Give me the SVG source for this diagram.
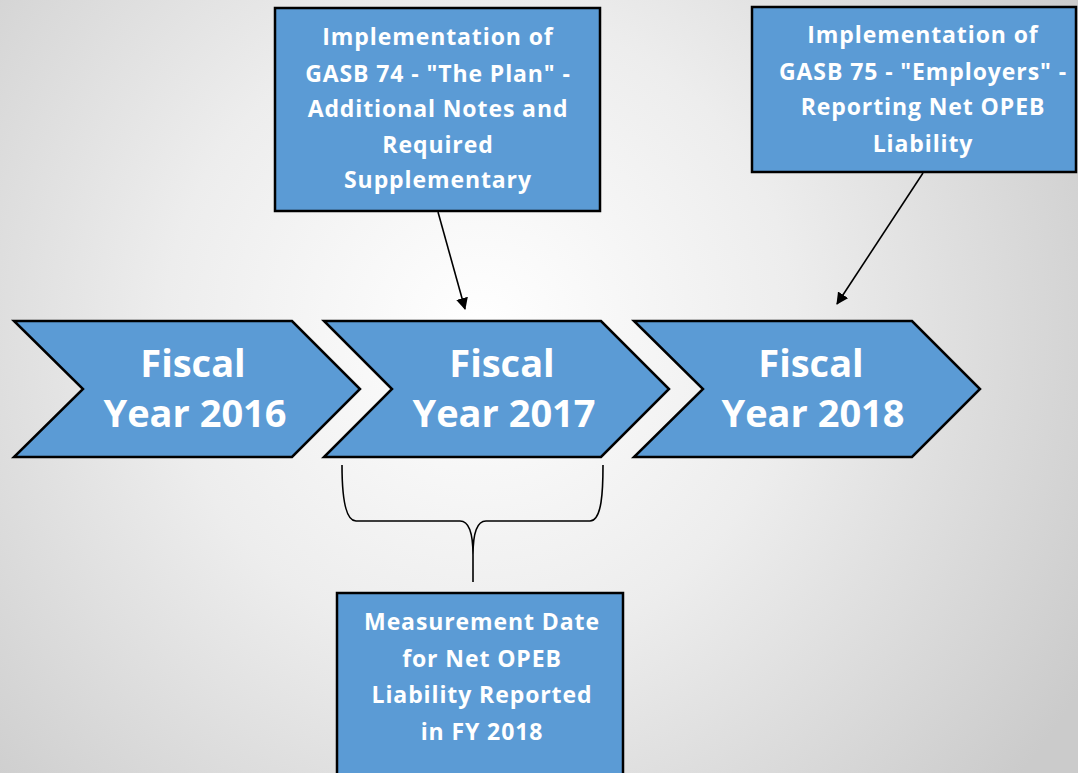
<svg xmlns="http://www.w3.org/2000/svg" width="1078" height="773" viewBox="0 0 1078 773">
  <defs>
    <radialGradient id="bg" cx="480" cy="330" r="700" gradientUnits="userSpaceOnUse">
      <stop offset="0" stop-color="#ffffff"/>
      <stop offset="0.45" stop-color="#ededed"/>
      <stop offset="1" stop-color="#cbcbcb"/>
    </radialGradient>
    <marker id="arrow" viewBox="0 0 12 12" refX="11" refY="6" markerWidth="12" markerHeight="12" markerUnits="userSpaceOnUse" orient="auto">
      <path d="M0,0 L12,6 L0,12 Z" fill="#000"/>
    </marker>
    <style>
      .shape { fill: #5b9bd5; stroke: #000; stroke-width: 2.5; stroke-linejoin: miter; }
      .big { font-family: "Open Sans", "Liberation Sans", sans-serif; font-weight: 700; font-size: 38px; fill: #fff; text-anchor: middle; }
      .note { font-family: "Open Sans", "Liberation Sans", sans-serif; font-weight: 700; font-size: 23px; fill: #fff; text-anchor: middle; letter-spacing: 0.9px; }
      .link { fill: none; stroke: #000; stroke-width: 1.6; }
    </style>
  </defs>

  <rect x="0" y="0" width="1078" height="773" fill="url(#bg)"/>

  <!-- timeline chevrons -->
  <g id="fy2016">
    <path class="shape" d="M14,321 L292,321 L360,389 L292,457 L14,457 L83,389 Z"/>
    <text class="big" x="193" y="377">Fiscal</text>
    <text class="big" x="195" y="427">Year 2016</text>
  </g>
  <g id="fy2017">
    <path class="shape" d="M324,321 L601,321 L669,389 L601,457 L324,457 L392,389 Z"/>
    <text class="big" x="502" y="377">Fiscal</text>
    <text class="big" x="504" y="427">Year 2017</text>
  </g>
  <g id="fy2018">
    <path class="shape" d="M634,321 L912,321 L980,389 L912,457 L634,457 L703,389 Z"/>
    <text class="big" x="811" y="377">Fiscal</text>
    <text class="big" x="813" y="427">Year 2018</text>
  </g>

  <!-- callout boxes -->
  <g id="gasb74">
    <rect class="shape" x="275" y="8" width="325" height="203"/>
    <text class="note" x="438" y="45">Implementation of</text>
    <text class="note" x="438" y="82">GASB 74 - "The Plan" -</text>
    <text class="note" x="438" y="117">Additional Notes and</text>
    <text class="note" x="438" y="153">Required</text>
    <text class="note" x="438" y="188">Supplementary</text>
  </g>
  <g id="gasb75">
    <rect class="shape" x="752" y="7" width="324" height="165"/>
    <text class="note" x="923" y="43">Implementation of</text>
    <text class="note" x="923" y="80">GASB 75 - "Employers" -</text>
    <text class="note" x="923" y="115">Reporting Net OPEB</text>
    <text class="note" x="923" y="152">Liability</text>
  </g>
  <g id="measurement">
    <rect class="shape" x="337" y="593" width="286" height="200"/>
    <text class="note" x="482" y="630">Measurement Date</text>
    <text class="note" x="482" y="667">for Net OPEB</text>
    <text class="note" x="482" y="703">Liability Reported</text>
    <text class="note" x="482" y="740">in FY 2018</text>
  </g>

  <!-- connectors -->
  <g id="connectors">
    <line class="link" x1="438" y1="212" x2="465" y2="309" marker-end="url(#arrow)"/>
    <line class="link" x1="923" y1="173" x2="837" y2="304" marker-end="url(#arrow)"/>
    <path class="link" d="M342,465 C342,490 344,521 356,521 L460,521 C470,521 473,535 473,555 L473,582 M473,555 C473,535 476,521 486,521 L590,521 C602,521 603,490 603,465"/>
  </g>
</svg>
